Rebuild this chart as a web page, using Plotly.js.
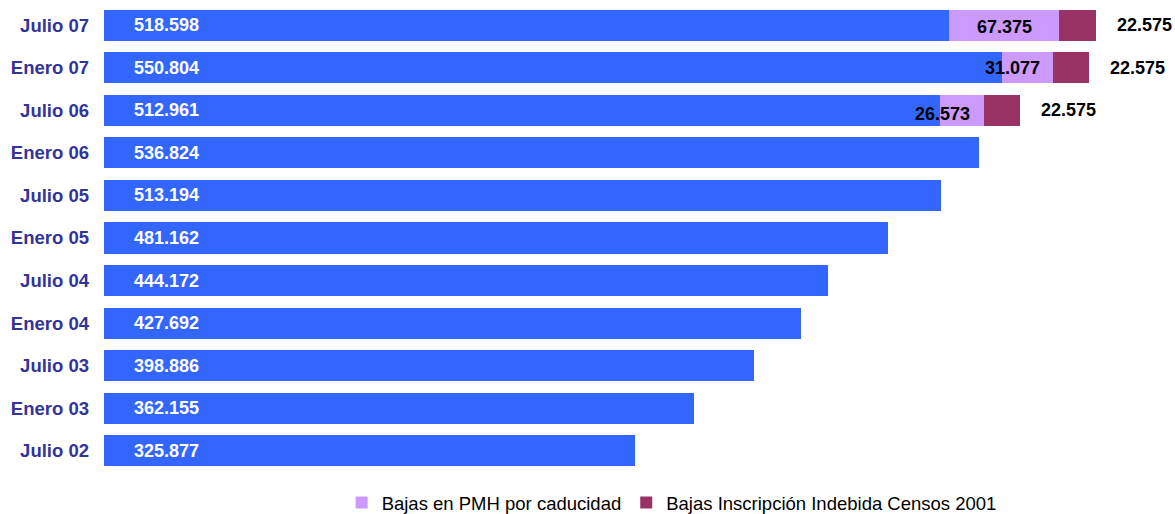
<!DOCTYPE html>
<html>
<head>
<meta charset="utf-8">
<script src="https://cdn.plot.ly/plotly-3.0.1.min.js"></script>
<style>html,body{margin:0;padding:0;background:#fff;}#chart{width:1175px;height:514px;}</style>
</head>
<body>
<div id="chart"></div>
<script>
// Data (top to bottom)
const categories = ["Julio 07","Enero 07","Julio 06","Enero 06","Julio 05","Enero 05","Julio 04","Enero 04","Julio 03","Enero 03","Julio 02"];
const padron = [518598,550804,512961,536824,513194,481162,444172,427692,398886,362155,325877];
const bajasCaducidad = [67375,31077,26573,null,null,null,null,null,null,null,null];
const bajasCensos = [22575,22575,22575,null,null,null,null,null,null,null,null];
const seriesNames = ["Padrón","Bajas en PMH por caducidad","Bajas Inscripción Indebida Censos 2001"];

// label styling offsets (px)
const purpleLabelShift = [0,-15,-19];
const purpleLabelYShift = [-2,0,-4];

function fmt(v){
  return String(v).replace(/\B(?=(\d{3})+(?!\d))/g, ".");
}

const FONT = "Liberation Sans, Arial, sans-serif";

const traces = [
  {type:"bar", orientation:"h", name:seriesNames[0], y:categories, x:padron,
   marker:{color:"#3366FF"}, showlegend:false, hoverinfo:"none"},
  {type:"bar", orientation:"h", name:seriesNames[1], y:categories, x:bajasCaducidad,
   marker:{color:"#CC99FF"}, hoverinfo:"none"},
  {type:"bar", orientation:"h", name:seriesNames[2], y:categories, x:bajasCensos,
   marker:{color:"#993366"}, hoverinfo:"none"}
];

const annotations = [];
categories.forEach((c,i)=>{
  annotations.push({x:0, y:c, xref:"x", yref:"y", text:fmt(padron[i]), showarrow:false,
    xanchor:"left", xshift:28, font:{family:FONT, size:18, color:"#FFFFFF", weight:"bold"}});
  if (bajasCaducidad[i] != null) {
    annotations.push({x:padron[i]+bajasCaducidad[i]/2, y:c, xref:"x", yref:"y",
      text:fmt(bajasCaducidad[i]), showarrow:false, xanchor:"center",
      xshift:purpleLabelShift[i], yshift:purpleLabelYShift[i],
      font:{family:FONT, size:18, color:"#000000", weight:"bold"}});
  }
  if (bajasCensos[i] != null) {
    annotations.push({x:padron[i]+(bajasCaducidad[i]||0)+bajasCensos[i], y:c, xref:"x", yref:"y",
      text:fmt(bajasCensos[i]), showarrow:false, xanchor:"left", xshift:19,
      font:{family:FONT, size:18, color:"#000000", weight:"bold"}});
  }
});

const layout = {
  width:1175, height:514,
  margin:{l:104, r:0, t:4, b:42, pad:0, autoexpand:false},
  paper_bgcolor:"#FFFFFF", plot_bgcolor:"#FFFFFF",
  barmode:"stack", bargap:0.27,
  xaxis:{range:[0,657000], visible:false, fixedrange:true},
  yaxis:{autorange:"reversed", type:"category", showgrid:false, showline:false, zeroline:false,
    ticks:"", ticklabelstandoff:14,
    tickfont:{family:FONT, size:18.5, color:"#333399", weight:"bold"}},
  showlegend:true,
  legend:{orientation:"h", x:0.53, xanchor:"center", y:-0.066, yanchor:"middle",
    font:{family:FONT, size:18.5, color:"#000000"}, traceorder:"normal", itemwidth:30},
  annotations:annotations,
  hovermode:false
};

Plotly.newPlot("chart", traces, layout, {displayModeBar:false, staticPlot:true});
</script>
</body>
</html>
